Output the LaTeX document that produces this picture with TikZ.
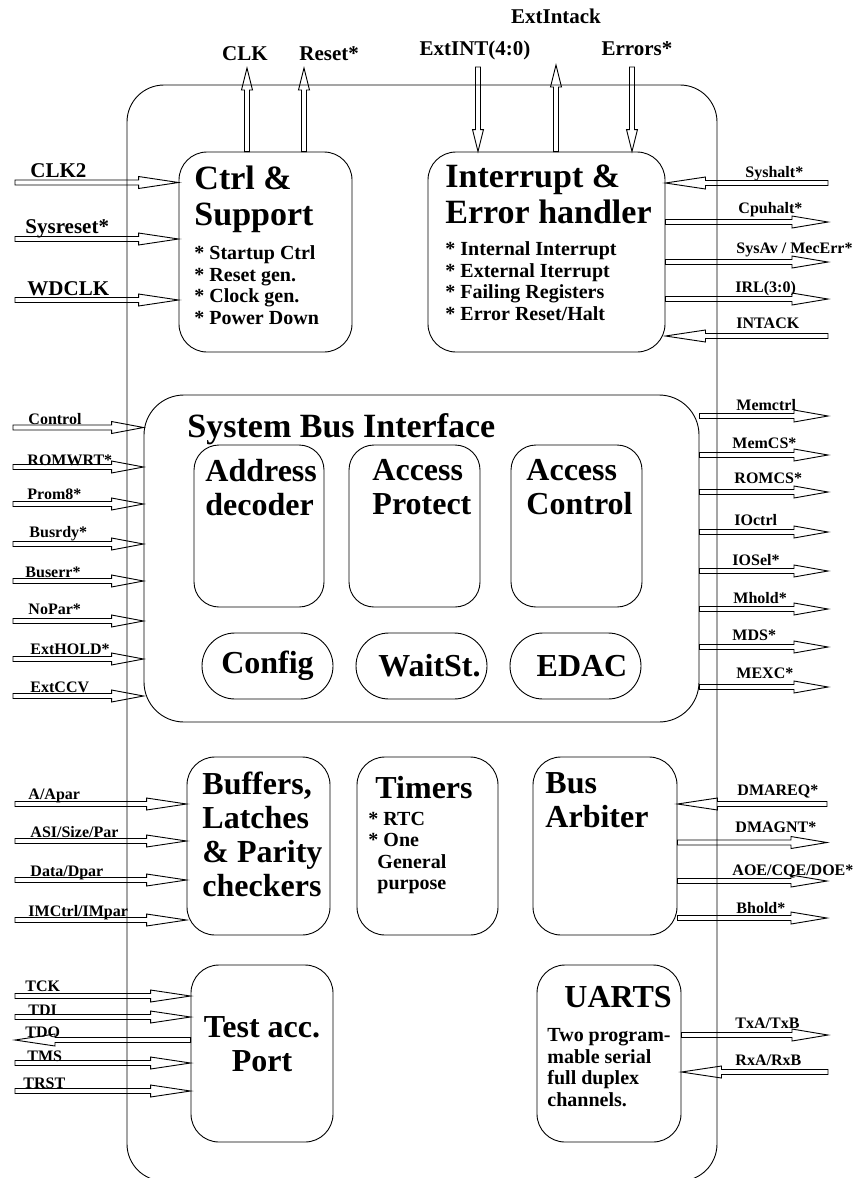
\documentclass[tikz,border=0pt]{standalone}
\usepackage{fontspec}
\setmainfont{Liberation Serif}
\usetikzlibrary{calc}

\tikzset{
  blk/.style={draw, rounded corners=28pt, inner sep=0pt},
  ttl/.style={font=\bfseries\fontsize{34}{36.5}\selectfont, align=left, inner sep=0pt, anchor=north west},
  subttl/.style={font=\bfseries\fontsize{32}{34}\selectfont, align=left, inner sep=0pt, anchor=north west},
  lst/.style={font=\bfseries\fontsize{20}{21.5}\selectfont, align=left, inner sep=0pt, anchor=north west},
  lbl/.style={font=\bfseries\fontsize{16}{16}\selectfont, inner sep=0pt, anchor=base west},
  biglbl/.style={font=\bfseries\fontsize{21}{21}\selectfont, inner sep=0pt, anchor=base west},
  headlen/.store in=\headlen, headlen=36pt,
  headwd/.store in=\headwd, headwd=6pt,
  shaftwd/.store in=\shaftwd, shaftwd=2.5pt,
  % hollow signal arrow: double shaft and long open head
  sig/.style={to path={
    ($(\tikztostart)!\shaftwd!90:(\tikztotarget)$)
    -- ($(\tikztotarget)!\headlen!(\tikztostart)!\shaftwd!-90:(\tikztostart)$)
    -- ($(\tikztotarget)!\headlen!(\tikztostart)!\headwd!-90:(\tikztostart)$)
    -- (\tikztotarget)
    -- ($(\tikztotarget)!\headlen!(\tikztostart)!\headwd!90:(\tikztostart)$)
    -- ($(\tikztotarget)!\headlen!(\tikztostart)!\shaftwd!90:(\tikztostart)$)
    -- ($(\tikztostart)!\shaftwd!-90:(\tikztotarget)$)
    -- cycle}}
}

\begin{document}
\begin{tikzpicture}[x=1pt, y=-1pt, line width=0.9pt]
  \path[use as bounding box] (0,0) rectangle (857,1178);
  \clip (0,0) rectangle (857,1178);

  % chip outline
  \draw[rounded corners=37pt] (127,85) rectangle (717,1181);

  % blocks
  \node[blk, minimum width=173pt, minimum height=200pt] (ctrl) at (265.5,252) {};
  \node[blk, minimum width=237pt, minimum height=200pt] (intr) at (546.5,252) {};
  \node[blk, rounded corners=40pt, minimum width=555pt, minimum height=327pt] (sbi) at (421.5,558.5) {};
  \node[blk, rounded corners=25pt, minimum width=130pt, minimum height=162pt] (addr) at (259,526) {};
  \node[blk, rounded corners=25pt, minimum width=131pt, minimum height=162pt] (prot) at (414.5,526) {};
  \node[blk, rounded corners=25pt, minimum width=131pt, minimum height=162pt] (actl) at (576.5,526) {};
  \node[blk, rounded corners=33pt, minimum width=131pt, minimum height=66pt,
        font=\bfseries\fontsize{32}{34}\selectfont] (cfg) at (267.5,666) {Config};
  \node[blk, rounded corners=33pt, minimum width=131pt, minimum height=66pt,
        font=\bfseries\fontsize{32}{34}\selectfont] (wait) at (421.5,666) {\hspace*{16pt}WaitSt.};
  \node[blk, rounded corners=33pt, minimum width=131pt, minimum height=66pt,
        font=\bfseries\fontsize{32}{34}\selectfont] (edac) at (575.5,666) {\hspace*{13pt}EDAC};
  \node[blk, minimum width=143pt, minimum height=178pt] (buf) at (258.5,846) {};
  \node[blk, minimum width=141pt, minimum height=178pt] (tmr) at (427.5,846) {};
  \node[blk, minimum width=144pt, minimum height=178pt] (arb) at (605,846) {};
  \node[blk, minimum width=142pt, minimum height=177pt] (tst) at (262,1053.5) {};
  \node[blk, minimum width=144pt, minimum height=177pt] (uart) at (609,1053.5) {};

  % block texts
  \node[ttl] (ctrlttl) at (194,165) {Ctrl \&\\Support};
  \node[lst] (ctrllst) at (194,245.5) {* Startup Ctrl\\* Reset gen.\\* Clock gen.\\* Power Down};
  \node[ttl] (intrttl) at (445,164) {Interrupt \&\\Error handler};
  \node[lst] (intrlst) at (445,241.5) {* Internal Interrupt\\* External Iterrupt\\* Failing Registers\\* Error Reset/Halt};
  \node[ttl] (sbittl) at (187,413) {System Bus Interface};
  \node[subttl] (addrttl) at (205,459) {Address\\decoder};
  \node[subttl] (protttl) at (372,459) {Access\\Protect};
  \node[subttl] (actlttl) at (526,459) {Access\\Control};
  \node[subttl] (bufttl) at (202,772) {Buffers,\\Latches\\\& Parity\\checkers};
  \node[subttl] (tmrttl) at (375,776) {Timers};
  \node[lst] (tmrlst) at (368,811.5) {* RTC\\* One\\\hspace*{9pt}General\\\hspace*{9pt}purpose};
  \node[subttl] (arbttl) at (545,772) {Bus\\Arbiter};
  \node[subttl, align=center, anchor=north] (tstttl) at (262,1016) {Test acc.\\Port};
  \node[subttl] (uartttl) at (564,986) {UARTS};
  \node[lst] (uartlst) at (547,1028) {Two program-\\mable serial\\full duplex\\channels.};

  % pins on top
  \coordinate (clk) at (247,68);
  \coordinate (rst) at (304,68);
  \coordinate (extint) at (478,67);
  \coordinate (extack) at (556,65);
  \coordinate (errs) at (632,67);
  \draw[sig, headlen=22pt, headwd=5.5pt] (ctrl.north -| clk) to (clk);
  \draw[sig, headlen=22pt, headwd=5.5pt] (ctrl.north -| rst) to (rst);
  \draw[sig, headlen=22pt, headwd=5.5pt] (extint) to (intr.north -| extint);
  \draw[sig, headlen=22pt, headwd=5.5pt] (intr.north -| extack) to (extack);
  \draw[sig, headlen=22pt, headwd=5.5pt] (errs) to (intr.north -| errs);
  \node[biglbl, anchor=base] (clklbl) at (245,60) {CLK};
  \node[biglbl] (rstlbl) at (299,60) {Reset*};
  \node[biglbl, anchor=base] (extintlbl) at (475,55) {ExtINT(4:0)};
  \node[biglbl, anchor=base] (extacklbl) at (556,23) {ExtIntack};
  \node[biglbl, anchor=base] (errslbl) at (637,55) {Errors*};

  % clock and reset inputs
  \foreach \y/\txt/\lx/\ly [count=\i] in {182.5/CLK2/30/177, 239/Sysreset*/25/233, 300/WDCLK/27/295}{
    \coordinate (cl\i) at (15,\y);
    \draw[sig, headlen=40pt] (cl\i) to (ctrl.west |- cl\i);
    \node[biglbl] (cllbl\i) at (\lx,\ly) {\txt};
  }

  % interrupt pins (1 = in, 0 = out)
  \foreach \y/\d/\txt/\lx/\ly [count=\i] in {183/1/Syshalt*/745/177, 222/0/Cpuhalt*/738/213,
      262/0/{SysAv / MecErr*}/736/253, 299/0/IRL(3:0)/735/292, 336/1/INTACK/736/328}{
    \coordinate (ir\i) at (828,\y);
    \ifnum\d=1 \draw[sig, headlen=40pt] (ir\i) to (intr.east |- ir\i);
    \else \draw[sig] (intr.east |- ir\i) to (ir\i); \fi
    \node[lbl] (irlbl\i) at (\lx,\ly) {\txt};
  }

  % system bus inputs
  \foreach \y/\txt/\lx/\ly [count=\i] in {427.5/Control/28/424, 467/ROMWRT*/27/465, 504/Prom8*/27/499,
      544/Busrdy*/29/537, 581/Buserr*/25/577, 621/NoPar*/28/614, 659/ExtHOLD*/30/654, 696/ExtCCV/30/692}{
    \coordinate (sl\i) at (13,\y);
    \draw[sig, headlen=32pt] (sl\i) to (sbi.west |- sl\i);
    \node[lbl] (sllbl\i) at (\lx,\ly) {\txt};
  }

  % system bus outputs
  \foreach \y/\txt/\lx/\ly [count=\i] in {416/Memctrl/736/410, 455/MemCS*/732/448, 492/ROMCS*/734/483,
      532/IOctrl/734/525, 571/IOSel*/732/565, 609/Mhold*/733/603, 647/MDS*/732/640, 687/MEXC*/736/678}{
    \coordinate (sr\i) at (828,\y);
    \draw[sig, headlen=34pt] (sbi.east |- sr\i) to (sr\i);
    \node[lbl] (srlbl\i) at (\lx,\ly) {\txt};
  }

  % data bus inputs
  \foreach \y/\txt/\lx/\ly [count=\i] in {804/{A/Apar}/28/799, 841/{ASI/Size/Par}/30/837,
      880/{Data/Dpar}/30/876, 920/{IMCtrl/IMpar}/28/916}{
    \coordinate (bl\i) at (15,\y);
    \draw[sig, headlen=40pt] (bl\i) to (buf.west |- bl\i);
    \node[lbl] (bllbl\i) at (\lx,\ly) {\txt};
  }

  % test port pins
  \foreach \y/\d/\txt/\lx/\ly [count=\i] in {996/1/TCK/25/991, 1017/1/TDI/28/1015, 1040/0/TDO/25/1037,
      1063/1/TMS/27/1061, 1091/1/TRST/23/1088}{
    \coordinate (tl\i) at (15,\y);
    \ifnum\d=1 \draw[sig, headlen=40pt] (tl\i) to (tst.west |- tl\i);
    \else \draw[sig, headlen=40pt] (tst.west |- tl\i) to (tl\i); \fi
    \node[lbl] (tllbl\i) at (\lx,\ly) {\txt};
  }

  % arbiter pins
  \foreach \y/\d/\txt/\lx/\ly [count=\i] in {804/1/DMAREQ*/737/795, 842.5/0/DMAGNT*/735/832,
      881/0/{AOE/CQE/DOE*}/732/875, 918/0/Bhold*/736/913}{
    \coordinate (ar\i) at (827,\y);
    \ifnum\d=1 \draw[sig, headlen=40pt] (ar\i) to (arb.east |- ar\i);
    \else \draw[sig] (arb.east |- ar\i) to (ar\i); \fi
    \node[lbl] (arlbl\i) at (\lx,\ly) {\txt};
  }

  % serial pins
  \foreach \y/\d/\txt/\lx/\ly [count=\i] in {1035/0/{TxA/TxB}/735/1028, 1072/1/{RxA/RxB}/735/1065}{
    \coordinate (ur\i) at (828,\y);
    \ifnum\d=1 \draw[sig, headlen=40pt] (ur\i) to (uart.east |- ur\i);
    \else \draw[sig] (uart.east |- ur\i) to (ur\i); \fi
    \node[lbl] (urlbl\i) at (\lx,\ly) {\txt};
  }
\end{tikzpicture}
\end{document}
